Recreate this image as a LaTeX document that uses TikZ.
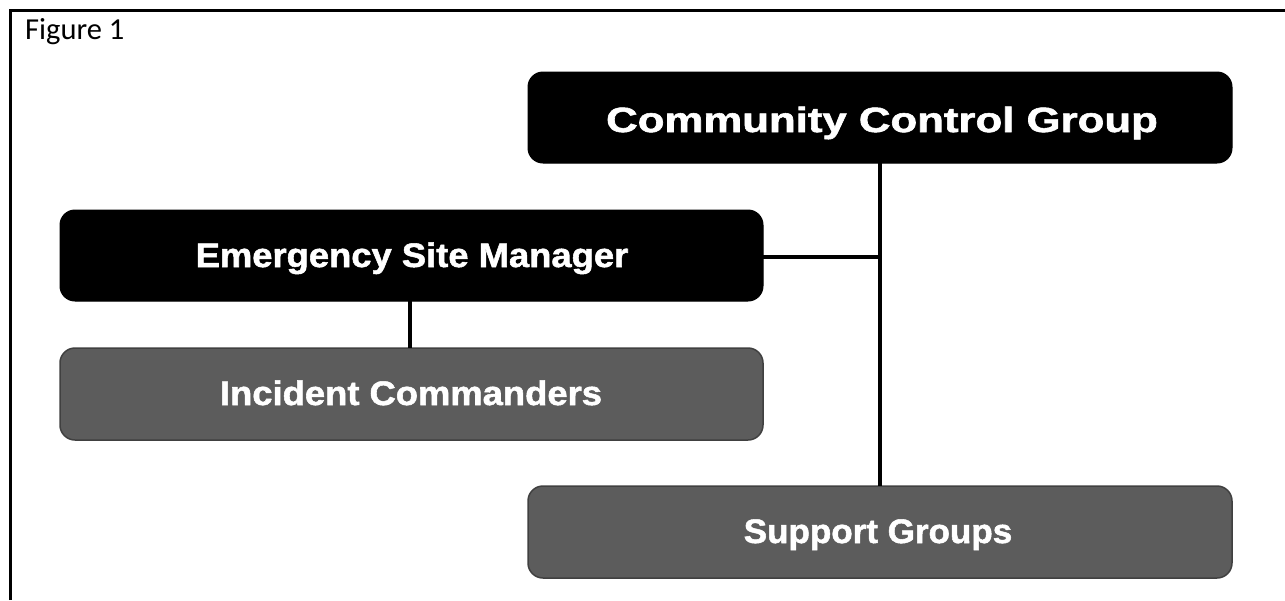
\documentclass[tikz,border=0pt]{standalone}
\usepackage{fontspec}
\setmainfont{Liberation Sans}[BoldFeatures={FakeBold=1.5}]
\newfontfamily\capfont{Carlito}
\definecolor{boxgray}{HTML}{5C5C5C}
\begin{document}
\begin{tikzpicture}[x=1pt,y=-1pt,
  blackbox/.style={draw=black,fill=black,rounded corners=15pt,line width=1pt},
  graybox/.style={draw=black!75,fill=boxgray,rounded corners=15pt,line width=1.5pt},
  boxtext/.style={text=white,font=\bfseries\fontsize{34}{38}\selectfont,anchor=base,inner sep=0pt},
  conn/.style={line width=4pt,draw=black},
  frameline/.style={line width=3pt,draw=black}]
\useasboundingbox (0,0) rectangle (1285,600);
% frame
\coordinate (fbl) at (10.5,600);
\coordinate (ftl) at (10.5,10.5);
\coordinate (ftr) at (1285,10.5);
\draw[frameline] (fbl) -- (ftl) -- (ftr);
\node[anchor=base west,inner sep=0pt,font=\capfont\fontsize{30.5}{34}\selectfont] (fig) at (25,39) {Figure 1};
% boxes
\draw[blackbox] (528,72) rectangle (1232,163);
\node[boxtext,font=\bfseries\fontsize{35}{40}\selectfont] (ccg) at (882,132) {\scalebox{1.25}[1]{Community Control Group}};
\coordinate (ccgS) at (880,163);
\draw[blackbox] (60,210) rectangle (763,301);
\node[boxtext] (esm) at (412,267) {\scalebox{1.07}[1]{Emergency Site Manager}};
\coordinate (esmE) at (763,257);
\coordinate (esmS) at (410,301);
\draw[graybox] (60,348) rectangle (763,440);
\node[boxtext] (ic) at (411,405) {\scalebox{1.07}[1]{Incident Commanders}};
\coordinate (icN) at (410,348);
\draw[graybox] (528,486) rectangle (1232,578);
\node[boxtext] (sg) at (878,543) {\scalebox{1.03}[1]{Support Groups}};
\coordinate (sgN) at (880,486);
\coordinate (junc) at (880,257);
% connectors
\draw[conn] (ccgS) -- (sgN);
\draw[conn] (esmE) -- (junc);
\draw[conn] (esmS) -- (icN);
\end{tikzpicture}
\end{document}
